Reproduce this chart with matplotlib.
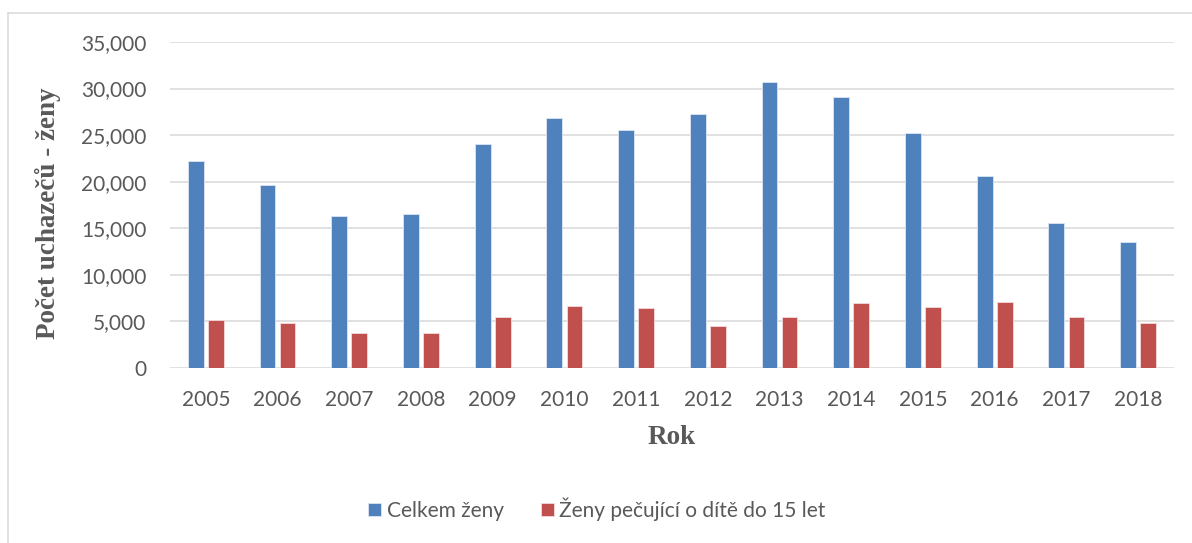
import matplotlib
matplotlib.use('Agg')
import matplotlib.pyplot as plt
from matplotlib.lines import Line2D
from matplotlib.ticker import FuncFormatter
import numpy as np

# data
years = ['2005', '2006', '2007', '2008', '2009', '2010', '2011',
         '2012', '2013', '2014', '2015', '2016', '2017', '2018']
celkem_zeny = [22200, 19600, 16300, 16500, 24000, 26800, 25500,
               27300, 30700, 29100, 25250, 20600, 15600, 13500]
zeny_pecujici = [5150, 4830, 3720, 3720, 5500, 6700, 6400,
                 4550, 5500, 7000, 6600, 7100, 5470, 4800]

blue = '#4F81BD'
red = '#C0504D'
grid_col = '#D9D9D9'
text_col = '#595959'
sans = 'Lato'
serif = 'Liberation Serif'

fig = plt.figure(figsize=(11.92, 5.43), dpi=100)
ax = fig.add_axes([0.1426, 0.3223, 0.8423, 0.6004])

x = np.arange(len(years))
w = 0.22
ax.bar(x - 0.14, celkem_zeny, width=w, color=blue, edgecolor='#DCE6F2', linewidth=0.6,
       label='Celkem ženy', zorder=3)
ax.bar(x + 0.14, zeny_pecujici, width=w, color=red, edgecolor='#F2DCDB', linewidth=0.6,
       label='Ženy pečující o dítě do 15 let', zorder=3)

ax.set_xlim(-0.5, len(years) - 0.5)
ax.set_ylim(0, 35000)
ax.set_yticks(range(0, 35001, 5000))
ax.yaxis.set_major_formatter(FuncFormatter(lambda v, p: '{:,.0f}'.format(v)))
ax.set_xticks(x)
ax.set_xticklabels(years)
ax.grid(axis='y', color=grid_col, linewidth=1.1, zorder=0)
for s in ax.spines.values():
    s.set_visible(False)
ax.tick_params(axis='both', length=0, labelsize=15, labelcolor=text_col)
ax.tick_params(axis='x', pad=16)
ax.tick_params(axis='y', pad=17)
for lab in ax.get_xticklabels() + ax.get_yticklabels():
    lab.set_family(sans)

# axis titles
fig.text(0.040, 0.608, 'Počet uchazečů - ženy', rotation=90, ha='center', va='center',
         family=serif, fontweight='bold', fontsize=19.5, color=text_col)
fig.text(0.5638, 0.195, 'Rok', ha='center', va='center',
         family=serif, fontweight='bold', fontsize=19.5, color=text_col)

# legend
fig.legend(loc='center', bbox_to_anchor=(0.5008, 1 - 509 / 543), ncol=2, frameon=False,
           prop={'family': sans, 'size': 15}, labelcolor=text_col,
           handlelength=0.63, handleheight=0.63, handletextpad=0.25, columnspacing=1.8)

# chart frame (top and left edges visible)
fig.add_artist(Line2D([8 / 1192, 1], [1 - 13 / 543, 1 - 13 / 543], color=grid_col, lw=1.1))
fig.add_artist(Line2D([8 / 1192, 8 / 1192], [0, 1 - 13 / 543], color=grid_col, lw=1.1))

plt.savefig('out.png', dpi=100)
